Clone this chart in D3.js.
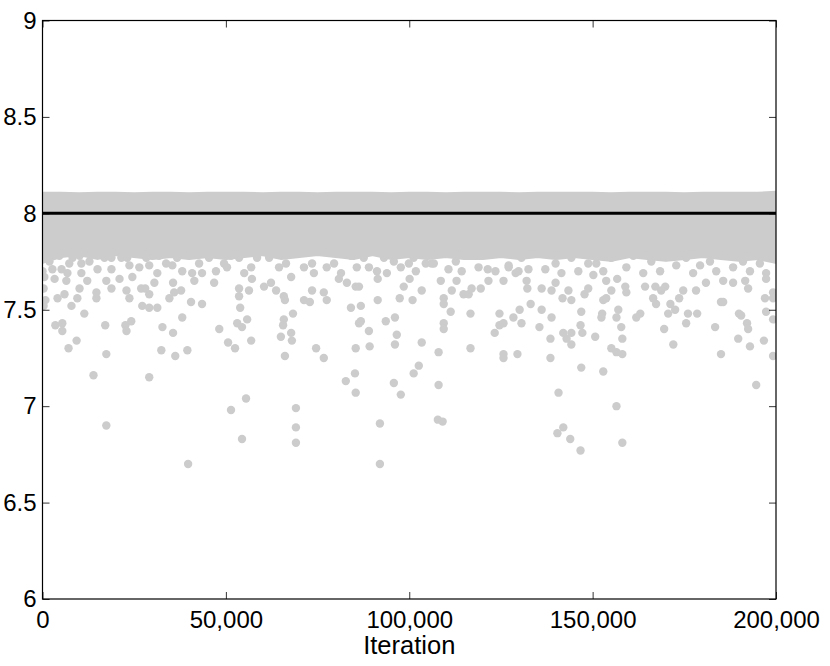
<!DOCTYPE html>
<html>
<head>
<meta charset="utf-8">
<script src="https://cdn.jsdelivr.net/npm/d3@7"></script>
<style>
    html, body { margin: 0; padding: 0; background: #fff; overflow: hidden; }
    #chart { width: 830px; height: 666px; }
</style>
</head>
<body>
<div id="chart"></div>
<script>
// Axis ticks
const xTicks = [0, 50000, 100000, 150000, 200000];
const yTicks = [6, 6.5, 7, 7.5, 8, 8.5, 9];
const xLabel = "Iteration";

// Reference value (black line)
const targetValue = 8;

// The solid band of overlapping samples, read as an envelope every 5,000 iterations
const coreIter = [0, 5000, 10000, 15000, 20000, 25000, 30000, 35000, 40000, 45000, 50000,
    55000, 60000, 65000, 70000, 75000, 80000, 85000, 90000, 95000, 100000,
    105000, 110000, 115000, 120000, 125000, 130000, 135000, 140000, 145000, 150000,
    155000, 160000, 165000, 170000, 175000, 180000, 185000, 190000, 195000, 200000];
const coreTop = [8.09, 8.09, 8.088, 8.09, 8.09, 8.088, 8.09, 8.09, 8.088, 8.09, 8.09,
    8.09, 8.088, 8.09, 8.09, 8.088, 8.09, 8.09, 8.09, 8.088, 8.09,
    8.09, 8.088, 8.09, 8.09, 8.09, 8.088, 8.09, 8.09, 8.09, 8.09,
    8.088, 8.09, 8.09, 8.09, 8.088, 8.09, 8.09, 8.09, 8.09, 8.095];
const coreBottom = [7.76, 7.79, 7.80, 7.78, 7.80, 7.79, 7.78, 7.79, 7.78, 7.79, 7.78,
    7.79, 7.80, 7.78, 7.79, 7.80, 7.79, 7.78, 7.80, 7.78, 7.79,
    7.78, 7.79, 7.78, 7.78, 7.79, 7.78, 7.79, 7.78, 7.79, 7.78,
    7.77, 7.79, 7.78, 7.77, 7.78, 7.79, 7.78, 7.77, 7.78, 7.76];

// Samples just under the solid band [iteration, value]
const fringePoints = [
    [1100, 7.82], [1900, 7.75], [0, 7.70], [2700, 7.71], [4600, 7.78], [5200, 7.71], [7300, 7.74],
    [6800, 7.69], [8200, 7.77], [10100, 7.78], [10600, 7.74], [12800, 7.75], [13300, 7.80], [15000, 7.71],
    [16900, 7.77], [18800, 7.77], [18800, 7.71], [21000, 7.81], [21500, 7.77], [23100, 7.77], [23700, 7.73],
    [25800, 7.81], [26400, 7.72], [28300, 7.77], [29100, 7.73], [31300, 7.69], [31800, 7.78], [33700, 7.74],
    [35400, 7.73], [36700, 7.77], [38100, 7.70], [40500, 7.80], [40800, 7.69], [42700, 7.74], [43500, 7.69],
    [45400, 7.77], [47300, 7.70], [49000, 7.82], [49500, 7.74],
    [50300, 7.72], [51400, 7.78], [53600, 7.77], [55000, 7.69], [56900, 7.72], [58500, 7.77], [61800, 7.77],
    [64500, 7.72], [66400, 7.74], [67800, 7.67], [69100, 7.79], [71300, 7.72], [73500, 7.74], [74000, 7.69],
    [76700, 7.80], [77500, 7.72], [79500, 7.74], [81400, 7.69], [84100, 7.78], [85700, 7.72], [87600, 7.77],
    [89000, 7.72], [91200, 7.70], [93100, 7.77], [93900, 7.69], [95800, 7.75], [97700, 7.72], [99900, 7.74],
    [101200, 7.77], [106100, 7.82], [103900, 7.81], [106100, 7.74], [108800, 7.79], [110700, 7.71], [112700, 7.75],
    [114300, 7.70], [117000, 7.81], [118900, 7.72], [121600, 7.79], [123500, 7.70], [127100, 7.73], [129000, 7.69],
    [130600, 7.77], [132500, 7.71], [134700, 7.79], [137100, 7.71], [139900, 7.74], [141500, 7.69], [144200, 7.77],
    [146100, 7.70], [148800, 7.74], [150200, 7.68],
    [151000, 7.74], [152900, 7.70], [155100, 7.77], [159200, 7.72], [161100, 7.78], [163800, 7.69], [166000, 7.75],
    [168400, 7.70], [170100, 7.79], [172800, 7.73], [175500, 7.77], [177400, 7.69], [179300, 7.73], [182000, 7.75],
    [183700, 7.70], [186400, 7.78], [188300, 7.72], [191000, 7.75], [192900, 7.70], [195600, 7.74], [197300, 7.69],
    [199200, 7.77]
];

// Scattered low samples [iteration, value]
const outlierPoints = [
    [500, 7.67], [300, 7.61], [800, 7.55], [300, 7.52], [4100, 7.56], [6000, 7.58], [6500, 7.65], [3300, 7.66],
    [7900, 7.52], [9500, 7.56], [10100, 7.61], [10600, 7.69], [12200, 7.65], [11400, 7.48], [14700, 7.59],
    [14700, 7.56], [17400, 7.65], [18800, 7.61], [21000, 7.66], [22900, 7.60], [23700, 7.56], [24500, 7.67],
    [26900, 7.61], [28000, 7.61], [29100, 7.58], [30500, 7.64], [27200, 7.52], [29100, 7.51], [31300, 7.51],
    [34600, 7.56], [35900, 7.59], [37800, 7.60], [35600, 7.64], [40500, 7.54], [43500, 7.53], [38100, 7.46],
    [41400, 7.65], [46800, 7.64], [3500, 7.42], [5400, 7.43], [5400, 7.39], [9300, 7.34], [7100, 7.30],
    [17100, 7.42], [17400, 7.27], [22600, 7.42], [22900, 7.39], [24200, 7.44], [32700, 7.41], [35600, 7.38],
    [32400, 7.29], [36200, 7.26], [39500, 7.29], [48200, 7.40], [13900, 7.16], [29100, 7.15], [17400, 6.90],
    [39700, 6.70],
    [53600, 7.61], [53600, 7.57], [56300, 7.60], [57100, 7.66], [60400, 7.62], [62300, 7.64], [63700, 7.60],
    [65800, 7.57], [66100, 7.55], [71300, 7.55], [72900, 7.54], [73500, 7.60], [76700, 7.59], [77500, 7.55],
    [80800, 7.66], [83000, 7.64], [85400, 7.62], [86300, 7.62], [91400, 7.66], [91400, 7.55], [98500, 7.62],
    [97400, 7.56], [100100, 7.66], [100900, 7.55], [53900, 7.51], [53100, 7.43], [54400, 7.41], [55800, 7.45],
    [56900, 7.34], [50600, 7.33], [52500, 7.30], [65800, 7.45], [65600, 7.42], [65000, 7.36], [67800, 7.38],
    [68000, 7.34], [68300, 7.48], [66100, 7.26], [74600, 7.30], [76700, 7.25], [84100, 7.51], [86800, 7.52],
    [86800, 7.44], [86300, 7.43], [89000, 7.39], [89200, 7.31], [85400, 7.30], [93600, 7.44], [96100, 7.46],
    [96600, 7.37], [96100, 7.32], [85200, 7.17], [82700, 7.13], [85400, 7.07], [95800, 7.12], [97700, 7.06],
    [101200, 7.17], [55500, 7.04], [51400, 6.98], [54400, 6.83], [69100, 6.99], [69100, 6.89], [69100, 6.81],
    [92000, 6.91], [92000, 6.70],
    [101800, 7.70], [103400, 7.60], [104500, 7.74], [106700, 7.74], [108600, 7.65], [109400, 7.56], [109400, 7.53],
    [111300, 7.49], [111600, 7.60], [114800, 7.58], [116200, 7.58], [117000, 7.61], [112900, 7.65], [116700, 7.48],
    [119500, 7.61], [121600, 7.65], [121400, 7.71], [125700, 7.65], [127100, 7.72], [129800, 7.70], [132000, 7.65],
    [132200, 7.61], [133100, 7.53], [130100, 7.50], [128400, 7.46], [130600, 7.43], [124600, 7.48], [124600, 7.42],
    [125700, 7.43], [123300, 7.38], [136100, 7.50], [135500, 7.41], [136100, 7.61], [138800, 7.60], [138800, 7.46],
    [139900, 7.64], [141800, 7.56], [143400, 7.60], [144200, 7.55], [146900, 7.49], [147800, 7.58], [148800, 7.61],
    [103400, 7.33], [109400, 7.43], [109400, 7.40], [108000, 7.28], [102600, 7.21], [116700, 7.30], [125700, 7.27],
    [125700, 7.25], [129500, 7.27], [138500, 7.35], [138500, 7.25], [142000, 7.38], [142900, 7.35], [144200, 7.38],
    [144200, 7.32], [146700, 7.42], [147200, 7.38], [146900, 7.20], [150700, 7.36], [108000, 7.11], [107800, 6.93],
    [109100, 6.92], [140700, 7.07], [140400, 6.86], [142000, 6.89], [143900, 6.83], [146700, 6.77],
    [153700, 7.65], [155100, 7.60], [152900, 7.55], [153700, 7.56], [152600, 7.48], [152400, 7.46], [156700, 7.66],
    [157000, 7.50], [156500, 7.46], [158900, 7.62], [159200, 7.59], [157800, 7.41], [158100, 7.35], [155100, 7.30],
    [156500, 7.28], [158100, 7.27], [152900, 7.18], [156500, 7.00], [158100, 6.81], [161900, 7.46], [163000, 7.48],
    [164300, 7.62], [167100, 7.62], [166500, 7.56], [167300, 7.53], [168700, 7.60], [169800, 7.62], [169500, 7.40],
    [170600, 7.48], [171200, 7.53], [172500, 7.50], [172000, 7.32], [173600, 7.56], [174700, 7.60], [175500, 7.43],
    [176000, 7.48], [178500, 7.48], [178200, 7.60], [180900, 7.64], [183400, 7.41], [185000, 7.54], [185600, 7.54],
    [185000, 7.27], [185600, 7.65], [188300, 7.64], [189900, 7.48], [190500, 7.47], [192100, 7.43], [192400, 7.40],
    [189700, 7.35], [192900, 7.31], [192400, 7.61], [191600, 7.65], [194600, 7.11], [196700, 7.34], [197300, 7.49],
    [197000, 7.56], [199200, 7.59], [199200, 7.56], [199200, 7.45], [199200, 7.26], [197300, 7.66]
];

const width = 830;
const height = 666;
const margin = {top: 20.5, right: 54, bottom: 67, left: 42.5};
const innerWidth = width - margin.left - margin.right;
const innerHeight = height - margin.top - margin.bottom;

const pointColor = "#cccccc";
const pointRadius = 4.2;
const font = "'Liberation Sans', Arial, Helvetica, sans-serif";

const svg = d3.select("#chart").append("svg")
    .attr("width", width)
    .attr("height", height)
    .style("display", "block")
    .style("font-family", font);

const g = svg.append("g")
    .attr("transform", "translate(" + margin.left + "," + margin.top + ")");

const x = d3.scaleLinear()
    .domain([0, 200000])
    .range([0, innerWidth]);

const y = d3.scaleLinear()
    .domain([6, 9])
    .range([innerHeight, 0]);

svg.append("defs").append("clipPath")
    .attr("id", "plot-clip")
    .append("rect")
    .attr("width", innerWidth)
    .attr("height", innerHeight);

const plot = g.append("g")
    .attr("clip-path", "url(#plot-clip)");

// Solid band: filled envelope, stroked so its edges round off like the dots
const core = coreIter.map(function (d, i) {
    return {iter: d, top: coreTop[i], bottom: coreBottom[i]};
});

plot.append("path")
    .datum(core)
    .attr("d", d3.area()
        .x(function (d) { return x(d.iter); })
        .y0(function (d) { return y(d.bottom); })
        .y1(function (d) { return y(d.top); }))
    .style("fill", pointColor)
    .style("stroke", pointColor)
    .style("stroke-width", pointRadius * 2)
    .style("stroke-linejoin", "round");

plot.selectAll(".sample")
    .data(fringePoints.concat(outlierPoints))
    .enter().append("circle")
    .attr("class", "sample")
    .attr("cx", function (d) { return x(d[0]); })
    .attr("cy", function (d) { return y(d[1]); })
    .attr("r", pointRadius)
    .style("fill", pointColor);

// Reference line
plot.append("line")
    .attr("x1", x(0))
    .attr("x2", x(200000))
    .attr("y1", y(targetValue))
    .attr("y2", y(targetValue))
    .style("stroke", "#000")
    .style("stroke-width", 3);

// Axes, ticks pointing inwards on all four sides
const tickLen = 7;

g.append("g")
    .attr("transform", "translate(0," + innerHeight + ")")
    .call(d3.axisBottom(x)
        .tickValues(xTicks)
        .tickFormat(d3.format(","))
        .tickSizeInner(-tickLen)
        .tickSizeOuter(0)
        .tickPadding(12));

g.append("g")
    .call(d3.axisLeft(y)
        .tickValues(yTicks)
        .tickFormat(function (d) { return String(d); })
        .tickSizeInner(-tickLen)
        .tickSizeOuter(0)
        .tickPadding(6));

// mirrored ticks on top and right, no labels
g.append("g")
    .attr("class", "mirror")
    .call(d3.axisTop(x)
        .tickValues(xTicks)
        .tickSizeInner(-tickLen)
        .tickSizeOuter(0));

g.append("g")
    .attr("class", "mirror")
    .attr("transform", "translate(" + innerWidth + ",0)")
    .call(d3.axisRight(y)
        .tickValues(yTicks)
        .tickSizeInner(-tickLen)
        .tickSizeOuter(0));

g.selectAll(".mirror text").remove();
g.selectAll(".domain").remove();
g.selectAll(".tick line")
    .style("stroke", "#000")
    .style("stroke-width", 0.8);

g.selectAll(".tick text")
    .style("font-family", font)
    .style("font-size", "24px")
    .style("fill", "#000");

// Box
g.append("rect")
    .attr("width", innerWidth)
    .attr("height", innerHeight)
    .style("fill", "none")
    .style("stroke", "#000")
    .style("stroke-width", 1.2);

svg.append("text")
    .attr("x", margin.left + innerWidth / 2)
    .attr("y", 654)
    .attr("text-anchor", "middle")
    .style("font-size", "25.5px")
    .style("fill", "#000")
    .text(xLabel);
</script>
</body>
</html>
